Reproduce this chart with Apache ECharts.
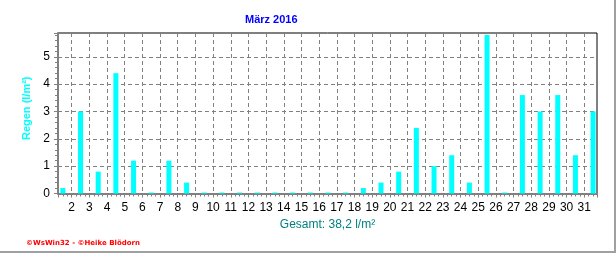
<!DOCTYPE html>
<html><head><meta charset="utf-8">
<script src="https://cdn.jsdelivr.net/npm/echarts@6/dist/echarts.min.js"></script>
<style>
html,body{margin:0;padding:0;background:#fff;}
#frame{width:614px;height:251px;border-right:2px solid #a0a0a0;border-bottom:2px solid #a0a0a0;}
#chart{width:614px;height:251px;}
</style></head><body>
<div id="frame"><div id="chart"></div></div>
<script>
// Data
const titleText = 'März 2016';
const yName = 'Regen (l/m²)';
const footerText = '©WsWin32 - ©Heike Blödorn';
const days = [1,2,3,4,5,6,7,8,9,10,11,12,13,14,15,16,17,18,19,20,21,22,23,24,25,26,27,28,29,30,31];
const rain = [0.2,3.0,0.8,4.4,1.2,0,1.2,0.4,0,0,0,0,0,0,0,0,0,0.2,0.4,0.8,2.4,1.0,1.4,0.4,5.8,0,3.6,3.0,3.6,1.4,3.0];
const yTicks = [0,1,2,3,4,5];

const total = rain.reduce((a,b)=>a+b,0);
const totalText = 'Gesamt: ' + total.toFixed(1).replace('.', ',') + ' l/m²';
// each day's bar sits in the middle of its day (day start = tick)
const seriesData = days.map((d,i)=>[d + 0.5, rain[i]]);

const chart = echarts.init(document.getElementById('chart'), null, {renderer:'canvas'});
const grey = '#808080';
chart.setOption({
  animation:false,
  backgroundColor:'#ffffff',
  title:[
    {text:titleText, left:240, top:9, textStyle:{color:'#0000ff', fontSize:11, fontWeight:'bold', fontFamily:'Liberation Sans'}},
    {text:footerText, left:21, top:235, textStyle:{color:'#ff0000', fontSize:7, fontWeight:'bold', fontFamily:'DejaVu Sans'}}
  ],
  grid:{left:58, top:33, width:539, height:160.5, show:true, borderColor:'#000', borderWidth:1, backgroundColor:'transparent'},
  xAxis:{
    type:'value', min:1.225, max:31.72, minInterval:1, maxInterval:1, splitNumber:30,
    name: totalText, nameLocation:'middle', nameGap:21,
    nameTextStyle:{color:'#008080', fontSize:12, fontFamily:'Liberation Sans'},
    axisLine:{show:true, onZero:false, lineStyle:{color:grey, width:2}},
    axisTick:{show:true, inside:false, length:4, lineStyle:{color:grey}},
    minorTick:{show:true, splitNumber:4, length:3, lineStyle:{color:grey}},
    axisLabel:{show:true, color:'#000', fontSize:12, fontFamily:'Liberation Sans', margin:8, showMinLabel:false, showMaxLabel:false,
      formatter:v=>String(v)},
    splitLine:{show:true, showMinLine:false, showMaxLine:false, lineStyle:{color:grey, type:[4,3], width:1}}
  },
  yAxis:{
    type:'value', min:0, max:5.87, interval:1,
    name:yName, nameLocation:'middle', nameGap:26, nameRotate:90,
    nameTextStyle:{color:'#00ffff', fontSize:11, fontWeight:'bold', fontFamily:'Liberation Sans', padding:[0,0,0,10]},
    axisLine:{show:true, lineStyle:{color:grey, width:2}},
    axisTick:{show:true, length:4, lineStyle:{color:grey}},
    minorTick:{show:true, splitNumber:5, length:3, lineStyle:{color:grey}},
    axisLabel:{color:'#000', fontSize:12, fontFamily:'Liberation Sans', margin:8, showMaxLabel:false,
      formatter:v=>(yTicks.indexOf(v)>=0?String(v):'')},
    splitLine:{show:true, showMinLine:false, showMaxLine:false, lineStyle:{color:grey, type:[4,3], width:1}}
  },
  series:[{
    type:'bar', data:seriesData, barWidth:5, barMinHeight:1,
    itemStyle:{color:'#00ffff'}, silent:true
  }]
});
</script>
</body></html>
